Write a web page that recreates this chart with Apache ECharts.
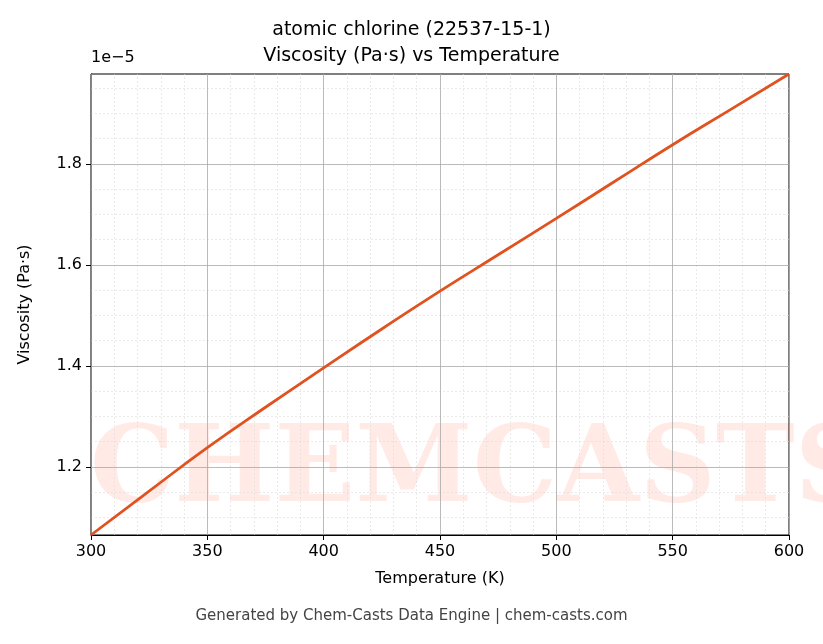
<!DOCTYPE html>
<html><head><meta charset="utf-8">
<script src="https://cdn.jsdelivr.net/npm/echarts@6/dist/echarts.min.js"></script>
<style>html,body{margin:0;padding:0;background:#fff}#c{width:823px;height:644px}</style>
</head><body><div id="c"></div>
<script>
const temps = [300, 325, 350, 375, 400, 425, 450, 475, 500, 525, 550, 575, 600];
const visc = [1.065, 1.152, 1.238, 1.318, 1.396, 1.473, 1.548, 1.620, 1.692, 1.765, 1.838, 1.908, 1.978];
const yTicks = [1.2, 1.4, 1.6, 1.8];
const yMinor = [1.1, 1.15, 1.25, 1.3, 1.35, 1.45, 1.5, 1.55, 1.65, 1.7, 1.75, 1.85, 1.9, 1.95];
const xTicks = [300, 350, 400, 450, 500, 550, 600];
const xMinor = [310,320,330,340,360,370,380,390,410,420,430,440,460,470,480,490,510,520,530,540,560,570,580,590];
const font = 'DejaVu Sans';
const chart = echarts.init(document.getElementById('c'));
const gridMinor = {lineStyle:{color:'#dcdcdc',width:0.6,type:[2,2]}};
chart.setOption({
  animation:false,
  title:{text:'atomic chlorine (22537-15-1)\nViscosity (Pa·s) vs Temperature',left:'center',top:12,
    textStyle:{fontFamily:font,fontSize:19,fontWeight:'normal',color:'#000',lineHeight:26}},
  graphic:[
    {type:'text',left:91,top:50,style:{text:'1e\u22125',font:'16px DejaVu Sans',fill:'#000'}},
    {type:'text',left:'center',top:609,style:{text:'Generated by Chem-Casts Data Engine | chem-casts.com',font:'15px DejaVu Sans',fill:'#444'}},
    {type:'text',left:90,top:420,z:-1,style:{text:'CHEMCASTS',font:'bold 106px DejaVu Serif',fill:'rgba(255,90,60,0.13)'}}
  ],
  grid:{left:91,right:34,top:74,bottom:109,show:true,borderColor:'#000',borderWidth:1},
  xAxis:{type:'value',min:300,max:600,name:'Temperature (K)',nameLocation:'middle',nameGap:36,
    nameTextStyle:{fontFamily:font,fontSize:16,color:'#000'},
    axisLine:{lineStyle:{color:'#000'}},
    axisTick:{customValues:xTicks,length:5,lineStyle:{color:'#000'}},
    axisLabel:{customValues:xTicks,fontFamily:font,fontSize:16,color:'#000',margin:9},
    splitLine:{show:false}},
  yAxis:{type:'value',min:1.065,max:1.978,name:'Viscosity (Pa·s)',nameLocation:'middle',nameGap:58,
    nameTextStyle:{fontFamily:font,fontSize:16,color:'#000'},
    axisLine:{lineStyle:{color:'#000'}},
    axisTick:{customValues:yTicks,length:5,lineStyle:{color:'#000'}},
    axisLabel:{customValues:yTicks,fontFamily:font,fontSize:16,color:'#000',margin:9,formatter:v=>v.toFixed(1)},
    splitLine:{show:false}},
  series:[
    {type:'line',data:temps.map((t,i)=>[t,visc[i]]),showSymbol:false,smooth:true,
     lineStyle:{color:'#e0521f',width:2.8},z:5,
     markLine:{silent:true,symbol:'none',label:{show:false},animation:false,
       data:[
         ...yMinor.map(v=>({yAxis:v,...gridMinor})),
         ...xMinor.map(v=>({xAxis:v,...gridMinor})),
         ...yTicks.map(v=>({yAxis:v,lineStyle:{color:'#a8a8a8',width:0.8,type:'solid'}})),
         ...xTicks.map(v=>({xAxis:v,lineStyle:{color:'#a8a8a8',width:0.8,type:'solid'}}))
       ]}}
  ]
});
</script></body></html>
